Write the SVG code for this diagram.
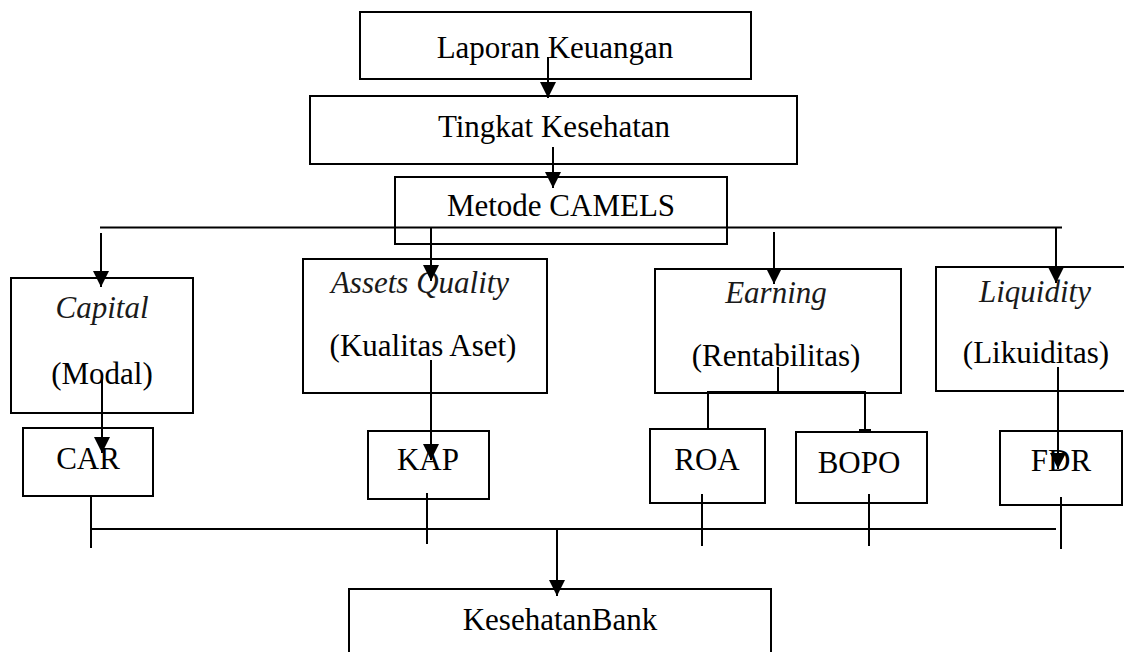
<svg xmlns="http://www.w3.org/2000/svg" width="1124" height="652" viewBox="0 0 1124 652">
<style>
.box{fill:none;stroke:#000;stroke-width:2}
.t{font-family:"Liberation Serif","Times New Roman",serif;font-size:31px;fill:#000;text-anchor:middle}
.it{font-style:italic;fill:#1a1a1a}
.c{fill:none;stroke:#000;stroke-width:2}
</style>
<defs>
<marker id="ah" markerUnits="userSpaceOnUse" markerWidth="16" markerHeight="16" refX="16" refY="8" orient="auto" viewBox="0 0 16 16">
<path d="M0,0 L16,8 L0,16 z" fill="#000"/>
</marker>
<marker id="tee" markerUnits="userSpaceOnUse" markerWidth="4" markerHeight="12" refX="2" refY="6" orient="auto" viewBox="0 0 4 12">
<rect x="0" y="0" width="3" height="12" fill="#000"/>
</marker>
</defs>
<rect width="1124" height="652" fill="#fff"/>
<g id="n-laporan">
<rect class="box" x="360" y="12" width="391" height="67"/>
<text class="t" x="555" y="58">Laporan Keuangan</text>
</g>
<g id="n-tingkat">
<rect class="box" x="310" y="96" width="487" height="68"/>
<text class="t" x="554" y="137">Tingkat Kesehatan</text>
</g>
<g id="n-camels">
<rect class="box" x="395" y="177" width="332" height="67"/>
<text class="t" x="561" y="216">Metode CAMELS</text>
</g>
<g id="n-capital">
<rect class="box" x="11" y="278" width="182" height="135"/>
<text class="t it" x="102" y="318">Capital</text>
<text class="t" x="102" y="384">(Modal)</text>
</g>
<g id="n-assets">
<rect class="box" x="303" y="259" width="244" height="134"/>
<text class="t it" x="420" y="293" font-size="30">Assets Quality</text>
<text class="t" x="423" y="356">(Kualitas Aset)</text>
</g>
<g id="n-earning">
<rect class="box" x="655" y="269" width="246" height="124"/>
<text class="t it" x="776" y="303">Earning</text>
<text class="t" x="776" y="366">(Rentabilitas)</text>
</g>
<g id="n-liquidity">
<rect class="box" x="936" y="267" width="192" height="124"/>
<text class="t it" x="1035" y="302">Liquidity</text>
<text class="t" x="1036" y="363">(Likuiditas)</text>
</g>
<g id="n-car">
<rect class="box" x="23" y="428" width="130" height="68"/>
<text class="t" x="88" y="469">CAR</text>
</g>
<g id="n-kap">
<rect class="box" x="368" y="431" width="121" height="68"/>
<text class="t" x="428" y="470">KAP</text>
</g>
<g id="n-roa">
<rect class="box" x="650" y="429" width="115" height="74"/>
<text class="t" x="707" y="470">ROA</text>
</g>
<g id="n-bopo">
<rect class="box" x="796" y="432" width="131" height="71"/>
<text class="t" x="859" y="473">BOPO</text>
</g>
<g id="n-fdr">
<rect class="box" x="1000" y="431" width="122" height="74"/>
<text class="t" x="1061" y="471">FDR</text>
</g>
<g id="n-bank">
<rect class="box" x="349" y="589" width="422" height="80"/>
<text class="t" x="560" y="630">KesehatanBank</text>
</g>
<g id="connectors">
<path class="c" d="M548,57 V98" marker-end="url(#ah)"/>
<path class="c" d="M553,147 V188" marker-end="url(#ah)"/>
<path class="c" d="M100,227.5 H1062"/>
<path class="c" d="M101,233 V287" marker-end="url(#ah)"/>
<path class="c" d="M431,228 V281" marker-end="url(#ah)"/>
<path class="c" d="M774,232 V284" marker-end="url(#ah)"/>
<path class="c" d="M1056,227.5 V283" marker-end="url(#ah)"/>
<path class="c" d="M102,379 V453" marker-end="url(#ah)"/>
<path class="c" d="M431,360 V460" marker-end="url(#ah)"/>
<path class="c" d="M778,367 V392"/>
<path class="c" d="M708,429 V392 H866"/>
<path class="c" d="M865,392 V431" marker-end="url(#tee)"/>
<path class="c" d="M1058,367 V469" marker-end="url(#ah)"/>
<path class="c" d="M91,529 H1056"/>
<path class="c" d="M91,496 V548"/>
<path class="c" d="M427,493 V544"/>
<path class="c" d="M702,494 V546"/>
<path class="c" d="M869,494 V546"/>
<path class="c" d="M1061,497 V549"/>
<path class="c" d="M557,529 V596" marker-end="url(#ah)"/>
</g>
</svg>
